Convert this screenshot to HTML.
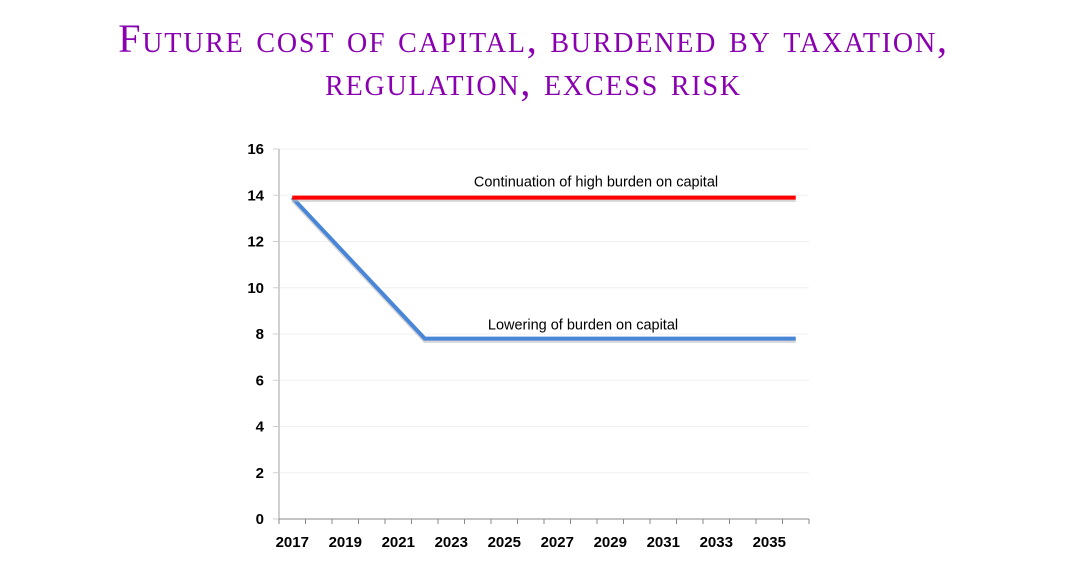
<!DOCTYPE html>
<html><head><meta charset="utf-8"><style>
body{margin:0;background:#fff;width:1067px;height:586px;overflow:hidden;}
#title{position:absolute;left:0;width:1067px;top:17px;text-align:center;font-family:"Liberation Serif",serif;font-variant:small-caps;color:#8a00b0;font-size:40px;line-height:43px;letter-spacing:1.8px;}
</style></head><body>
<div id="title">Future cost of capital, burdened by taxation,<br>regulation, excess risk</div>
<svg id="chart" width="1067" height="586" style="position:absolute;left:0;top:0"></svg>
<script>
const years=[2017,2018,2019,2020,2021,2022,2023,2024,2025,2026,2027,2028,2029,2030,2031,2032,2033,2034,2035,2036];
const highBurden=[13.9,13.9,13.9,13.9,13.9,13.9,13.9,13.9,13.9,13.9,13.9,13.9,13.9,13.9,13.9,13.9,13.9,13.9,13.9,13.9];
const lowerBurden=[13.9,null,null,null,null,7.8,7.8,7.8,7.8,7.8,7.8,7.8,7.8,7.8,7.8,7.8,7.8,7.8,7.8,7.8];
const yTicks=[0,2,4,6,8,10,12,14,16];
const xLabels=[2017,2019,2021,2023,2025,2027,2029,2031,2033,2035];
const X0=279,BW=26.5,Y0=519,YT=149;
const x=i=>X0+BW*(i+0.5);
const y=v=>Y0-(v/16)*(Y0-YT);
const svg=document.getElementById('chart');
const NS='http://www.w3.org/2000/svg';
function mk(t,a){const e=document.createElementNS(NS,t);for(const k in a)e.setAttribute(k,a[k]);svg.appendChild(e);return e;}
yTicks.forEach(v=>{
 if(v>0){const g=mk('line',{x1:X0,x2:X0+BW*years.length,y1:y(v),y2:y(v),stroke:'#f0f0f0','stroke-width':1});
 
 }
 const t=mk('line',{x1:X0-6,x2:X0,y1:y(v),y2:y(v),stroke:'#d0d0d0','stroke-width':1});
 
 
 const l=mk('text',{x:264,y:y(v)+5,'text-anchor':'end','font-family':'Liberation Sans, sans-serif','font-size':15,'font-weight':'bold',fill:'#000'});
 l.textContent=v;
 
 
});
const ya=mk('line',{x1:X0,x2:X0,y1:YT,y2:Y0,stroke:'#d0d0d0','stroke-width':2});


const xa=mk('line',{x1:X0,x2:X0+BW*years.length,y1:Y0,y2:Y0,stroke:'#888','stroke-width':1});


for(let i=0;i<=years.length;i++){
 const t=mk('line',{x1:X0+BW*i,x2:X0+BW*i,y1:Y0,y2:Y0+5,stroke:'#888','stroke-width':1});
 
 
}
xLabels.forEach(yr=>{
 const i=years.indexOf(yr);
 const l=mk('text',{x:x(i),y:547,'text-anchor':'middle','font-family':'Liberation Sans, sans-serif','font-size':15,'font-weight':'bold',fill:'#000'});
 l.textContent=yr;
 
 
});
function path(arr){let d='';arr.forEach((v,i)=>{if(v==null)return;d+=(d?'L':'M')+x(i)+','+y(v);});return d;}
[[lowerBurden,'#4a86d8','line-lowering-burden'],[highBurden,'#ff0000','line-high-burden']].forEach(([arr,c,n])=>{
 const s=mk('path',{d:path(arr),fill:'none',stroke:'#bbb','stroke-width':3.5,transform:'translate(0,2.5)',opacity:0.6});
 
 
 const p=mk('path',{d:path(arr),fill:'none',stroke:c,'stroke-width':4});
 
 
});
const a1=mk('text',{x:596,y:y(13.9)-11,'text-anchor':'middle','font-family':'Liberation Sans, sans-serif','font-size':14.5,fill:'#000'});
a1.textContent='Continuation of high burden on capital';


const a2=mk('text',{x:583,y:y(7.8)-9,'text-anchor':'middle','font-family':'Liberation Sans, sans-serif','font-size':14.5,fill:'#000'});
a2.textContent='Lowering of burden on capital';


</script>
</body></html>
